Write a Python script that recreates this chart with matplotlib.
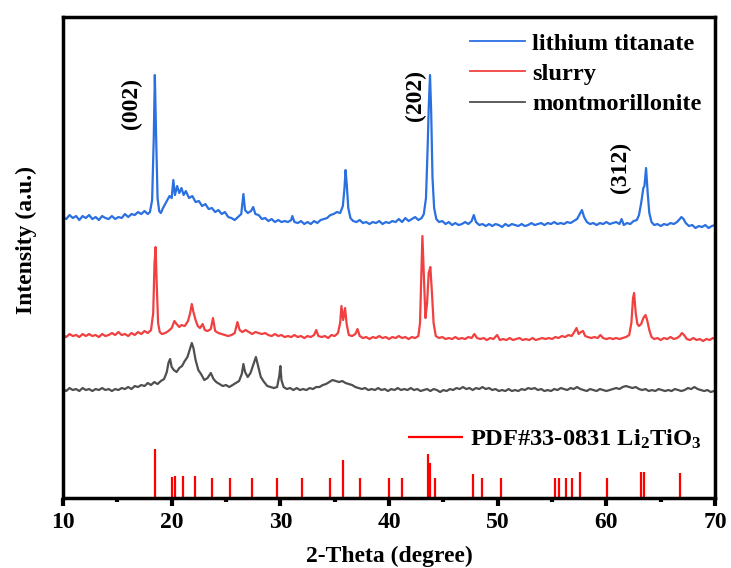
import matplotlib
matplotlib.use("Agg")
import matplotlib.pyplot as plt

plt.rcParams['font.family'] = ['Liberation Serif', 'DejaVu Serif']
plt.rcParams['font.weight'] = 'bold'
plt.rcParams['mathtext.fontset'] = 'custom'
plt.rcParams['mathtext.rm'] = 'Liberation Serif:bold'
plt.rcParams['mathtext.default'] = 'rm'

# ---------------- data ----------------
blue_x = [10.0, 10.3, 10.6, 10.9, 11.2, 11.5, 11.8, 12.1, 12.4, 12.7, 13.0, 13.3, 13.6, 13.9, 14.2, 14.5, 14.8, 15.1, 15.4, 15.7,
          16.0, 16.3, 16.6, 16.9, 17.2, 17.5, 17.8, 18.0, 18.2, 18.35, 18.45, 18.55, 18.7, 18.85, 19.0, 19.2, 19.5, 19.8, 20.0, 20.15,
          20.3, 20.5, 20.7, 20.9, 21.1, 21.3, 21.6, 21.9, 22.2, 22.5, 22.8, 23.1, 23.4, 23.7, 24.0, 24.3, 24.6, 24.9, 25.2, 25.5,
          25.8, 26.1, 26.4, 26.6, 26.75, 27.0, 27.3, 27.5, 27.7, 28.0, 28.3, 28.6, 28.9, 29.2, 29.5, 29.8, 30.1, 30.4, 30.7, 31.0,
          31.1, 31.3, 31.6, 31.9, 32.2, 32.5, 32.8, 33.1, 33.4, 33.7, 34.0, 34.3, 34.6, 34.9, 35.2, 35.5, 35.75, 35.9, 36.0, 36.1,
          36.25, 36.45, 36.7, 37.0, 37.3, 37.6, 37.9, 38.2, 38.5, 38.8, 39.1, 39.4, 39.7, 40.0, 40.3, 40.6, 40.9, 41.2, 41.5, 41.8,
          42.1, 42.4, 42.7, 43.0, 43.2, 43.4, 43.55, 43.65, 43.77, 43.88, 44.0, 44.15, 44.35, 44.6, 44.9, 45.2, 45.5, 45.8, 46.1, 46.4,
          46.7, 47.0, 47.3, 47.6, 47.8, 48.0, 48.3, 48.6, 48.9, 49.2, 49.5, 49.8, 50.1, 50.4, 50.7, 51.0, 51.3, 51.6, 51.9, 52.2,
          52.5, 52.8, 53.1, 53.4, 53.7, 54.0, 54.3, 54.6, 54.9, 55.2, 55.5, 55.8, 56.1, 56.4, 56.7, 57.0, 57.3, 57.5, 57.75, 57.95,
          58.2, 58.5, 58.8, 59.1, 59.4, 59.7, 60.0, 60.3, 60.6, 60.9, 61.2, 61.4, 61.6, 61.9, 62.2, 62.5, 62.8, 63.0, 63.2, 63.4,
          63.5, 63.65, 63.8, 63.95, 64.15, 64.4, 64.7, 65.0, 65.3, 65.6, 65.9, 66.2, 66.5, 66.75, 66.9, 67.1, 67.3, 67.6, 67.9, 68.2,
          68.5, 68.8, 69.1, 69.4, 69.7, 70.0]
blue_y = [281, 279, 283, 280, 282, 278, 282, 280, 283, 279, 281, 278, 282, 280, 279, 282, 279, 281, 280, 284,
          281, 284, 283, 286, 284, 287, 284, 286, 298, 360, 423, 370, 300, 287, 285, 290, 296, 302, 300, 318,
          303, 312, 305, 310, 303, 307, 300, 302, 296, 297, 292, 294, 289, 290, 286, 288, 284, 286, 281, 280,
          278, 281, 284, 304, 288, 285, 287, 291, 284, 283, 279, 280, 277, 279, 276, 278, 276, 277, 276, 278,
          282, 276, 275, 277, 274, 276, 274, 277, 275, 278, 279, 280, 283, 284, 286, 285, 292, 310, 328, 315,
          290, 280, 277, 276, 278, 275, 276, 274, 276, 275, 277, 274, 276, 275, 277, 276, 279, 276, 280, 277,
          279, 281, 278, 280, 284, 300, 350, 390, 423, 385, 320, 290, 279, 276, 277, 274, 276, 273, 275, 273,
          274, 276, 274, 277, 283, 276, 273, 274, 272, 274, 272, 274, 273, 271, 274, 272, 274, 273, 272, 274,
          272, 273, 275, 273, 274, 275, 273, 275, 274, 276, 274, 275, 274, 276, 275, 277, 279, 283, 288, 281,
          276, 274, 275, 273, 275, 274, 276, 274, 275, 276, 274, 279, 273, 275, 274, 277, 278, 283, 295, 310,
          312, 330, 305, 285, 276, 273, 274, 272, 274, 273, 275, 274, 276, 279, 281, 279, 275, 272, 273, 270,
          272, 271, 273, 270, 272, 273]

red_x = [10.0, 10.3, 10.6, 10.9, 11.2, 11.5, 11.8, 12.1, 12.4, 12.7, 13.0, 13.3, 13.6, 13.9, 14.2, 14.5, 14.8, 15.1, 15.4, 15.7,
         16.0, 16.3, 16.6, 16.9, 17.2, 17.5, 17.8, 18.1, 18.3, 18.42, 18.52, 18.62, 18.75, 18.9, 19.1, 19.4, 19.7, 20.0, 20.25, 20.45,
         20.7, 20.9, 21.2, 21.5, 21.7, 21.85, 22.0, 22.2, 22.4, 22.6, 22.85, 23.05, 23.3, 23.6, 23.8, 24.0, 24.3, 24.6, 24.9, 25.2,
         25.5, 25.8, 26.05, 26.25, 26.5, 26.8, 27.1, 27.4, 27.7, 28.0, 28.3, 28.6, 28.9, 29.2, 29.5, 29.8, 30.1, 30.4, 30.7, 31.0,
         31.3, 31.6, 31.9, 32.2, 32.5, 32.8, 33.1, 33.3, 33.5, 33.8, 34.1, 34.4, 34.7, 35.0, 35.3, 35.5, 35.62, 35.78, 35.95, 36.1,
         36.3, 36.6, 36.9, 37.1, 37.3, 37.6, 37.9, 38.2, 38.5, 38.8, 39.1, 39.4, 39.7, 40.0, 40.3, 40.6, 40.9, 41.2, 41.5, 41.8,
         42.1, 42.4, 42.7, 42.85, 42.95, 43.07, 43.2, 43.35, 43.5, 43.65, 43.8, 43.95, 44.1, 44.3, 44.6, 44.9, 45.2, 45.5, 45.8, 46.1,
         46.4, 46.7, 47.0, 47.3, 47.6, 47.85, 48.1, 48.4, 48.7, 49.0, 49.3, 49.6, 49.95, 50.2, 50.5, 50.8, 51.1, 51.4, 51.7, 52.0,
         52.3, 52.6, 52.9, 53.2, 53.5, 53.8, 54.1, 54.4, 54.7, 55.0, 55.3, 55.6, 55.9, 56.2, 56.5, 56.8, 57.05, 57.25, 57.45, 57.65,
         57.85, 58.05, 58.3, 58.6, 58.9, 59.2, 59.45, 59.7, 60.0, 60.3, 60.6, 60.9, 61.2, 61.5, 61.8, 62.1, 62.3, 62.45, 62.55, 62.7,
         62.85, 63.0, 63.2, 63.4, 63.6, 63.75, 63.95, 64.15, 64.4, 64.7, 65.0, 65.3, 65.6, 65.9, 66.2, 66.5, 66.75, 66.95, 67.15, 67.4,
         67.7, 68.0, 68.3, 68.6, 68.9, 69.2, 69.5, 69.8, 70.0]
red_y = [163, 161, 164, 162, 163, 161, 164, 162, 164, 162, 163, 161, 164, 162, 163, 165, 163, 166, 163, 164,
         162, 165, 163, 166, 164, 167, 165, 168, 185, 235, 251, 215, 175, 166, 164, 165, 167, 170, 177, 174,
         171, 173, 172, 177, 185, 194, 186, 178, 172, 170, 174, 168, 167, 169, 180, 167, 165, 164, 163, 162,
         163, 165, 176, 168, 166, 168, 166, 164, 166, 165, 164, 165, 163, 162, 164, 162, 163, 161, 162, 161,
         163, 161, 162, 160, 162, 161, 163, 168, 162, 161, 162, 160, 163, 162, 165, 175, 192, 178, 190, 174,
         163, 162, 164, 169, 162, 160, 161, 159, 161, 160, 162, 160, 161, 159, 161, 160, 162, 160, 161, 159,
         161, 160, 162, 175, 215, 262, 225, 180, 195, 225, 231, 205, 175, 162, 160, 161, 159, 160, 159, 161,
         159, 160, 159, 161, 160, 164, 160, 159, 160, 158, 160, 159, 163, 158, 159, 158, 160, 158, 159, 160,
         158, 159, 158, 160, 158, 159, 160, 159, 160, 159, 161, 160, 162, 161, 163, 162, 166, 170, 164, 166,
         167, 162, 161, 160, 161, 160, 163, 160, 159, 160, 159, 160, 159, 160, 161, 163, 175, 200, 205, 185,
         174, 172, 174, 180, 183, 178, 168, 161, 159, 160, 158, 160, 159, 161, 159, 160, 162, 165, 163, 159,
         158, 160, 158, 159, 157, 159, 158, 160, 159]

gray_x = [10.0, 10.3, 10.6, 10.9, 11.2, 11.5, 11.8, 12.1, 12.4, 12.7, 13.0, 13.3, 13.6, 13.9, 14.2, 14.5, 14.8, 15.1, 15.4, 15.7,
          16.0, 16.3, 16.6, 16.9, 17.2, 17.5, 17.8, 18.1, 18.4, 18.7, 19.0, 19.3, 19.55, 19.7, 19.85, 20.0, 20.2, 20.45, 20.7, 20.95,
          21.2, 21.45, 21.65, 21.85, 22.0, 22.2, 22.45, 22.7, 23.0, 23.3, 23.6, 23.85, 24.1, 24.4, 24.7, 25.0, 25.3, 25.6, 25.9, 26.2,
          26.45, 26.6, 26.75, 27.0, 27.25, 27.5, 27.75, 27.95, 28.2, 28.5, 28.8, 29.1, 29.4, 29.7, 29.9, 30.0, 30.1, 30.3, 30.6, 30.9,
          31.2, 31.5, 31.8, 32.1, 32.4, 32.7, 33.0, 33.3, 33.6, 33.9, 34.2, 34.5, 34.8, 35.1, 35.4, 35.7, 36.0, 36.3, 36.6, 36.9,
          37.2, 37.5, 37.8, 38.1, 38.4, 38.7, 39.0, 39.3, 39.6, 39.9, 40.2, 40.5, 40.8, 41.1, 41.4, 41.7, 42.0, 42.3, 42.6, 42.9,
          43.2, 43.5, 43.8, 44.1, 44.4, 44.7, 45.0, 45.3, 45.6, 45.9, 46.2, 46.5, 46.8, 47.1, 47.4, 47.7, 48.0, 48.3, 48.6, 48.9,
          49.2, 49.5, 49.8, 50.1, 50.4, 50.7, 51.0, 51.3, 51.6, 51.9, 52.2, 52.5, 52.8, 53.1, 53.4, 53.7, 54.0, 54.3, 54.6, 54.9,
          55.2, 55.5, 55.8, 56.1, 56.4, 56.7, 57.0, 57.3, 57.6, 57.9, 58.2, 58.5, 58.8, 59.1, 59.4, 59.7, 60.0, 60.3, 60.6, 60.9,
          61.2, 61.5, 61.8, 62.1, 62.4, 62.7, 63.0, 63.3, 63.6, 63.9, 64.2, 64.5, 64.8, 65.1, 65.4, 65.7, 66.0, 66.3, 66.6, 66.9,
          67.2, 67.5, 67.8, 68.1, 68.4, 68.7, 69.0, 69.3, 69.6, 69.9, 70.0]
gray_y = [109, 107, 110, 108, 109, 107, 110, 108, 109, 107, 109, 108, 110, 108, 109, 107, 109, 108, 110, 109,
          111, 109, 112, 111, 113, 112, 115, 113, 116, 114, 117, 119, 126, 135, 139, 131, 128, 126, 130, 132,
          137, 141, 148, 155, 150, 138, 128, 124, 118, 120, 125, 119, 116, 114, 112, 113, 111, 113, 115, 117,
          124, 134, 126, 121, 125, 133, 141, 132, 121, 116, 112, 111, 110, 111, 122, 132, 118, 111, 109, 110,
          108, 110, 108, 109, 108, 110, 109, 111, 111, 113, 114, 116, 118, 117, 116, 117, 115, 114, 113, 111,
          110, 109, 110, 108, 109, 108, 110, 108, 109, 107, 109, 108, 110, 108, 109, 108, 110, 108, 109, 107,
          108, 109, 107, 109, 108, 106, 108, 107, 109, 108, 110, 109, 111, 109, 110, 108, 110, 109, 111, 109,
          110, 108, 109, 107, 108, 107, 109, 107, 108, 107, 109, 108, 110, 109, 110, 108, 109, 107, 108, 107,
          109, 108, 110, 109, 108, 110, 109, 111, 109, 108, 107, 109, 108, 107, 109, 108, 107, 108, 109, 110,
          109, 111, 112, 111, 110, 111, 109, 108, 109, 107, 108, 107, 109, 108, 107, 108, 107, 109, 108, 107,
          108, 110, 109, 111, 109, 108, 107, 108, 106, 107, 107]

pdf_pos = [18.44, 20.05, 20.35, 21.04, 22.1, 23.7, 25.4, 27.4, 29.7, 31.95, 34.55, 35.8, 37.35, 39.96, 41.15,
           43.55, 43.73, 44.2, 47.75, 48.57, 50.3, 55.3, 55.65, 56.3, 56.8, 57.6, 60.05, 63.2, 63.5, 66.8]
pdf_int = [49, 21, 22, 22, 22, 20, 20, 20, 20, 20, 20, 38, 20, 20, 20,
           44, 35, 20, 24, 20, 20, 20, 20, 20, 20, 26, 20, 26, 26, 25]

hkl_labels = ['(002)', '(202)', '(312)']
hkl_x = [16.3, 42.4, 61.26]
hkl_y = [395, 403, 331]

series_labels = ['lithium titanate', 'slurry', 'montmorillonite']
pdf_label = 'PDF#33-0831 Li$_2$TiO$_3$'
x_ticks = [10, 20, 30, 40, 50, 60, 70]

# ---------------- plotting ----------------
fig = plt.figure(figsize=(7.31, 5.68), dpi=100)
ax = fig.add_axes([0.0862, 0.1232, 0.8920, 0.8468])

c_blue = '#2a70e0'
c_red = '#f04040'
c_gray = '#4f4f4f'

l1, = ax.plot(blue_x, blue_y, color=c_blue, lw=1.6, label=series_labels[0])
l2, = ax.plot(red_x, red_y, color=c_red, lw=1.6, label=series_labels[1])
l3, = ax.plot(gray_x, gray_y, color=c_gray, lw=1.6, label=series_labels[2])
vl = ax.vlines(pdf_pos, 0, pdf_int, colors='#ff0000', lw=1.6, label=pdf_label)

for t, x, y in zip(hkl_labels, hkl_x, hkl_y):
    ax.text(x, y, t, rotation=90, ha='center', va='center', fontsize=17, fontweight='bold')

ax.set_xlim(10, 70)
ax.set_ylim(0, 481)
ax.set_xticks(x_ticks)
ax.set_xticks([15, 25, 35, 45, 55, 65], minor=True)
ax.set_yticks([])
ax.tick_params(axis='x', which='major', direction='out', length=6, width=3, labelsize=17, pad=4)
ax.tick_params(axis='x', which='minor', direction='out', length=3, width=3)
for lab in ax.get_xticklabels():
    lab.set_fontweight('bold')
for s in ax.spines.values():
    s.set_linewidth(2.5)

ax.set_xlabel('2-Theta (degree)', fontsize=17, fontweight='bold')
ax.set_ylabel('Intensity (a.u.)', fontsize=17, fontweight='bold')
ax.xaxis.set_label_coords(0.5, -0.100)
ax.yaxis.set_label_coords(-0.040, 0.536)

leg1 = ax.legend(handles=[l1, l2, l3], loc='upper left', bbox_to_anchor=(0.624, 0.968),
                 frameon=False, fontsize=17.6, handlelength=2.25, handletextpad=0.3,
                 labelspacing=0.34, borderpad=0, borderaxespad=0)
for h in leg1.get_lines():
    h.set_linewidth(1.3)
ax.add_artist(leg1)
leg2 = ax.legend(handles=[vl], loc='upper left', bbox_to_anchor=(0.529, 0.147),
                 frameon=False, fontsize=17.6, handlelength=2.25, handletextpad=0.3,
                 borderpad=0, borderaxespad=0)

fig.savefig('out.png', dpi=100)
